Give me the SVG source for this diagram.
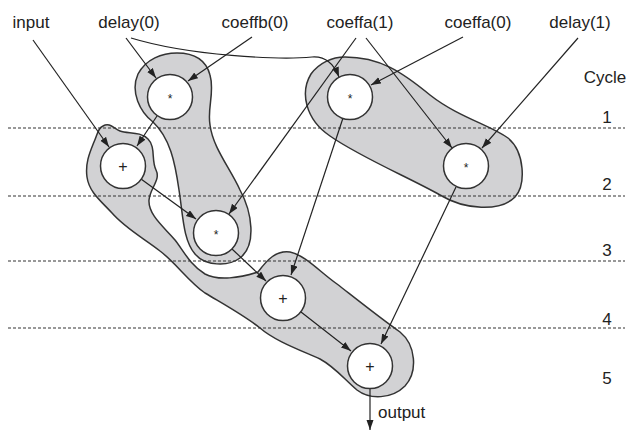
<svg xmlns="http://www.w3.org/2000/svg" width="630" height="431" viewBox="0 0 630 431">
  <defs>
    <marker id="arrow" markerUnits="userSpaceOnUse" markerWidth="11" markerHeight="8" refX="10" refY="3.5" orient="auto">
      <path d="M0,0 L10,3.5 L0,7 Z" fill="#222"/>
    </marker>
    <style>
      .blob { fill: #d2d2d4; stroke: #333; stroke-width: 1.5; }
      .cycle { stroke: #333; stroke-width: 1.2; stroke-dasharray: 3 2; fill: none; }
      .node circle { fill: #fff; stroke: #333; stroke-width: 1.5; }
      .edge { stroke: #222; stroke-width: 1.2; fill: none; marker-end: url(#arrow); }
      text { font-family: "Liberation Sans", Arial, sans-serif; fill: #222; }
      .lbl { font-size: 17px; text-anchor: middle; }
      .op { font-size: 16px; text-anchor: middle; }
      .mul { font-size: 12px; text-anchor: middle; }
    </style>
  </defs>
  <rect width="630" height="431" fill="#fff"/>

  <!-- shaded groupings of operations -->
  <g id="groups">
    <path id="group-mul-b" class="blob" d="M 177 53 C 195 53, 206 60, 210 75 C 215 92, 207 108, 210 125 C 213 148, 230 168, 240 190 C 252 212, 257 245, 240 258 C 228 267, 205 266, 195 254 C 183 240, 183 215, 179 190 C 175 162, 170 138, 153 122 C 140 112, 130 92, 138 74 C 146 59, 162 53, 177 53 Z"/>
    <path id="group-mul-a" class="blob" d="M 345 57 C 380 57, 402 72, 430 95 C 458 117, 490 125, 508 138 C 525 152, 526 185, 515 197 C 500 212, 465 210, 440 195 C 410 178, 360 157, 330 136 C 305 119, 300 92, 311 74 C 319 63, 332 57, 345 57 Z"/>
    <path id="group-add" class="blob" d="M 103 126 C 110 122, 114 129, 120 131 C 128 134, 140 131, 148 139 C 156 147, 151 160, 156 170 C 161 180, 150 188, 149 200 C 148 215, 165 228, 175 240 C 183 250, 190 265, 205 274 C 218 281, 240 278, 258 272 C 267 260, 276 250, 290 252 C 305 255, 320 272, 337 284 C 355 298, 380 318, 400 332 C 416 345, 418 372, 405 386 C 392 399, 370 400, 357 390 C 345 380, 335 367, 320 359 C 300 350, 275 341, 260 328 C 245 316, 225 305, 205 293 C 188 281, 176 263, 160 251 C 145 239, 126 229, 112 213 C 101 201, 89 192, 87 177 C 85 163, 90 152, 94 142 C 98 133, 98 128, 103 126 Z"/>
  </g>

  <!-- cycle boundaries -->
  <g id="cycles">
    <line class="cycle" x1="8" y1="128" x2="625" y2="128"/>
    <line class="cycle" x1="8" y1="196" x2="625" y2="196"/>
    <line class="cycle" x1="8" y1="261" x2="625" y2="261"/>
    <line class="cycle" x1="8" y1="328" x2="625" y2="328"/>
    <text class="lbl" x="605" y="83">Cycle</text>
    <text class="lbl" x="607" y="123">1</text>
    <text class="lbl" x="607" y="190">2</text>
    <text class="lbl" x="607" y="256">3</text>
    <text class="lbl" x="607" y="325">4</text>
    <text class="lbl" x="607" y="384">5</text>
  </g>

  <!-- input labels -->
  <g id="inputs">
    <text class="lbl" x="31" y="28">input</text>
    <text class="lbl" x="129" y="28">delay(0)</text>
    <text class="lbl" x="255" y="28">coeffb(0)</text>
    <text class="lbl" x="360" y="28">coeffa(1)</text>
    <text class="lbl" x="478" y="28">coeffa(0)</text>
    <text class="lbl" x="580" y="28">delay(1)</text>
    <text x="378" y="418" style="font-size:17px">output</text>
  </g>

  <!-- connectors -->
  <g id="connectors">
    <path class="edge" d="M 33 40 L 109 147"/>
    <path class="edge" d="M 126 38 L 156 78"/>
    <path class="edge" d="M 131 38 C 190 56, 280 60, 312 57 C 326 56, 334 64, 339 77"/>
    <path class="edge" d="M 252 37 L 188 81"/>
    <path class="edge" d="M 356 38 L 229 214"/>
    <path class="edge" d="M 366 38 L 452 148"/>
    <path class="edge" d="M 463 37 L 371 85"/>
    <path class="edge" d="M 578 38 L 482 148"/>
    <path class="edge" d="M 157 116 L 137 146"/>
    <path class="edge" d="M 141 179 L 196 219"/>
    <path class="edge" d="M 343 118 L 291 275"/>
    <path class="edge" d="M 232 249 L 266 281"/>
    <path class="edge" d="M 456 187 L 381 344"/>
    <path class="edge" d="M 301 312 L 351 351"/>
    <path class="edge" d="M 370 389 L 370 430"/>
  </g>

  <!-- operation nodes -->
  <g id="mul-b0" class="node"><circle cx="170" cy="97" r="22.5"/><text class="mul" x="170" y="103">*</text></g>
  <g id="mul-a1" class="node"><circle cx="350" cy="97" r="22.5"/><text class="mul" x="350" y="103">*</text></g>
  <g id="add-1" class="node"><circle cx="123" cy="166" r="22.5"/><text class="op" x="123" y="172">+</text></g>
  <g id="mul-a0" class="node"><circle cx="466" cy="166" r="22.5"/><text class="mul" x="466" y="172">*</text></g>
  <g id="mul-a1b" class="node"><circle cx="216" cy="233" r="22.5"/><text class="mul" x="216" y="239">*</text></g>
  <g id="add-2" class="node"><circle cx="283" cy="298" r="22.5"/><text class="op" x="283" y="304">+</text></g>
  <g id="add-3" class="node"><circle cx="370" cy="366" r="22.5"/><text class="op" x="370" y="372">+</text></g>
</svg>
